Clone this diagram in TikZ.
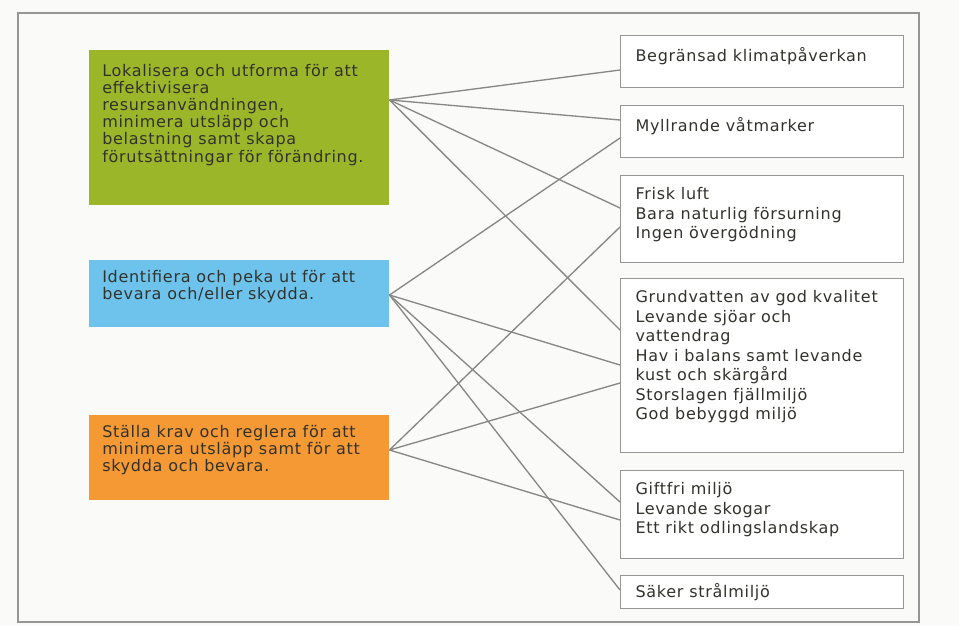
\documentclass[tikz,border=0pt]{standalone}
\usepackage{fontspec}
\setmainfont{DejaVu Sans}[LetterSpace=4.5]
\usetikzlibrary{calc}
\definecolor{mygreen}{RGB}{156, 182, 42}
\definecolor{myblue}{RGB}{110, 195, 236}
\definecolor{myorange}{RGB}{244, 153, 52}
\definecolor{mygray1}{RGB}{250, 250, 248}
\definecolor{mygray2}{RGB}{150, 150, 150}
\definecolor{mygray3}{RGB}{135, 135, 135}
\definecolor{mytext}{RGB}{50, 50, 45}
\newcommand{\ltext}[2]{\parbox[c][#1][t]{205.5pt}{\raggedright\baselineskip=12.8pt #2}}
\newcommand{\rtext}[2]{\parbox[c][#1][t]{189.75pt}{\raggedright\baselineskip=14.6pt #2}}

\begin{document}
\begin{tikzpicture}[
    x = 0.75pt, y = -0.75pt,
    lbox/.style = {anchor = north west, inner xsep = 9.75pt, text = mytext, font = \fontsize{12}{14}\selectfont},
    rbox/.style = {anchor = north west, draw = mygray2, line width = 0.8pt, fill = white, inner xsep = 11.25pt, inner ysep = 9pt, text = mytext, font = \fontsize{12}{14}\selectfont},
    conn/.style = {line width = 1pt, mygray3}
]

\useasboundingbox[fill = mygray1] (0,0) rectangle (959,625);
\draw[mygray2, line width = 1.1pt] (18,13) rectangle (919,622);

% left column
\node[lbox, fill = mygreen, inner ysep = 10.7pt] (gl) at (89,50) {\ltext{94.85pt}{Lokalisera och utforma för att\\ effektivisera\\ resursanvändningen,\\ minimera utsläpp och\\ belastning samt skapa\\ förutsättningar för förändring.}};
\node[lbox, fill = myblue, inner ysep = 7.7pt] (bl) at (89,260) {\ltext{34.85pt}{Identifiera och peka ut för att\\ bevara och/eller skydda.}};
\node[lbox, fill = myorange, inner ysep = 7.7pt] (ol) at (89,415) {\ltext{48.35pt}{Ställa krav och reglera för att\\ minimera utsläpp samt för att\\ skydda och bevara.}};

% right column
\node[rbox] (r1) at (620,35) {\rtext{21pt}{Begränsad klimatpåverkan}};
\node[rbox] (r2) at (620,105) {\rtext{21pt}{Myllrande våtmarker}};
\node[rbox] (r3) at (620,175) {\rtext{47.25pt}{Frisk luft\\ Bara naturlig försurning\\ Ingen övergödning}};
\node[rbox] (r4) at (620,278) {\rtext{112.5pt}{Grundvatten av god kvalitet\\ Levande sjöar och\\ vattendrag\\ Hav i balans samt levande\\ kust och skärgård\\ Storslagen fjällmiljö\\ God bebyggd miljö}};
\node[rbox] (r5) at (620,470) {\rtext{48pt}{Giftfri miljö\\ Levande skogar\\ Ett rikt odlingslandskap}};
\node[rbox, inner ysep = 6pt] (r6) at (620,575) {\rtext{12.75pt}{Säker strålmiljö}};

% connectors
\draw[conn] ($(gl.north east)+(0,50)$) -- ($(r1.north west)+(0,35)$);
\draw[conn] ($(gl.north east)+(0,50)$) -- ($(r2.north west)+(0,15)$);
\draw[conn] ($(gl.north east)+(0,50)$) -- ($(r3.north west)+(0,33)$);
\draw[conn] ($(gl.north east)+(0,50)$) -- ($(r4.north west)+(0,52)$);

\draw[conn] ($(bl.north east)+(0,35)$) -- ($(r2.north west)+(0,33)$);
\draw[conn] ($(bl.north east)+(0,35)$) -- ($(r4.north west)+(0,87)$);
\draw[conn] ($(bl.north east)+(0,35)$) -- ($(r5.north west)+(0,32)$);
\draw[conn] ($(bl.north east)+(0,35)$) -- ($(r6.north west)+(0,15)$);

\draw[conn] ($(ol.north east)+(0,35)$) -- ($(r3.north west)+(0,52)$);
\draw[conn] ($(ol.north east)+(0,35)$) -- ($(r4.north west)+(0,105)$);
\draw[conn] ($(ol.north east)+(0,35)$) -- ($(r5.north west)+(0,50)$);

\end{tikzpicture}
\end{document}
